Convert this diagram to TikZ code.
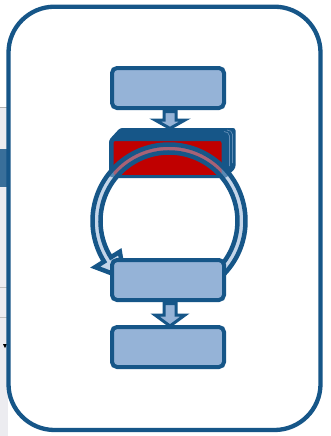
\documentclass[tikz,border=0pt]{standalone}
\usetikzlibrary{calc}
\definecolor{dk}{RGB}{22,86,136}
\definecolor{lt}{RGB}{149,179,215}
\definecolor{rd}{RGB}{192,0,0}
\definecolor{strip}{RGB}{236,236,240}
\begin{document}
\begin{tikzpicture}[x=1pt,y=-1pt,
  box/.style={draw=dk,line width=4pt,fill=lt,rounded corners=5pt,minimum width=112pt,minimum height=40pt,inner sep=0pt},
  redbox/.style={draw=dk,line width=3pt,fill=rd,rounded corners=3pt,minimum width=111pt,minimum height=37pt,inner sep=0pt},
  blockarrow/.style={draw=dk,line width=3pt,fill=lt,line join=miter},
  ringarrow/.style={draw=dk,line width=4.5pt,fill=lt,fill opacity=0.55,line join=miter},
  frame/.style={draw=dk,line width=4.3pt,rounded corners=46pt},
  depthline/.style={draw=lt!60!dk,line width=0.7pt}]
\useasboundingbox (0,0) rectangle (331,436);
\fill[white] (0,0) rectangle (331,436);
% left edge strip (screenshot remnant)
\fill[strip] (0,107.5) rectangle (8,436);
\draw[gray!60,line width=0.6pt] (0,107.5) -- (8,107.5);
\fill[dk!85] (0,149) rectangle (7,187);
\draw[gray!50,line width=0.6pt] (0,287) -- (8,287);
\draw[gray!50,line width=0.6pt] (0,317) -- (8,317);
\fill[black] (3,344) -- (7,344) -- (5,348) -- cycle;
% outer frame
\draw[frame] (8.5,6.7) rectangle (320.5,430);
% top box
\node[box] (b1) at (168,88) {};
% red 3D box: depth
\fill[dk,rounded corners=2.5pt] (109,177) -- (109,140) -- (120,128) -- (235.5,128) -- (235.5,168) -- (226,178) -- cycle;
\draw[depthline] (224,131.5) to[out=0,in=90] (229.5,136) -- (229.5,166);
\draw[depthline] (227,130) to[out=0,in=90] (232.5,134.5) -- (232.5,163);
\node[redbox] (rb) at (167.5,158) {};
% arrow b1 -> rb
\draw[blockarrow] ($(b1.south)+(-4,1.5)$) -- ($(b1.south)+(-4,10)$) -- ($(b1.south)+(-13,10)$)
  -- ($(b1.south)+(2,18.4)$) -- ($(b1.south)+(17,10)$) -- ($(b1.south)+(8,10)$) -- ($(b1.south)+(8,1.5)$) -- cycle;
% circular arrow
\coordinate (rc) at (169,221);
\draw[ringarrow] ([shift={(rc)}]44:76.5) arc[start angle=44,end angle=-212,radius=76.5]
  -- ([shift={(rc)}]-212:87) -- ([shift={(rc)}]-232:72.5) -- ([shift={(rc)}]-212:58)
  -- ([shift={(rc)}]-212:68.5) arc[start angle=-212,end angle=44,radius=68.5] -- cycle;
% lower boxes
\node[box] (b3) at (168,280) {};
\node[box] (b4) at (168,347) {};
\draw[blockarrow] ($(b3.south)+(-4,1.5)$) -- ($(b3.south)+(-4,13)$) -- ($(b3.south)+(-13,13)$)
  -- ($(b3.south)+(2,24)$) -- ($(b3.south)+(17,13)$) -- ($(b3.south)+(8,13)$) -- ($(b3.south)+(8,1.5)$) -- cycle;
\end{tikzpicture}
\end{document}
